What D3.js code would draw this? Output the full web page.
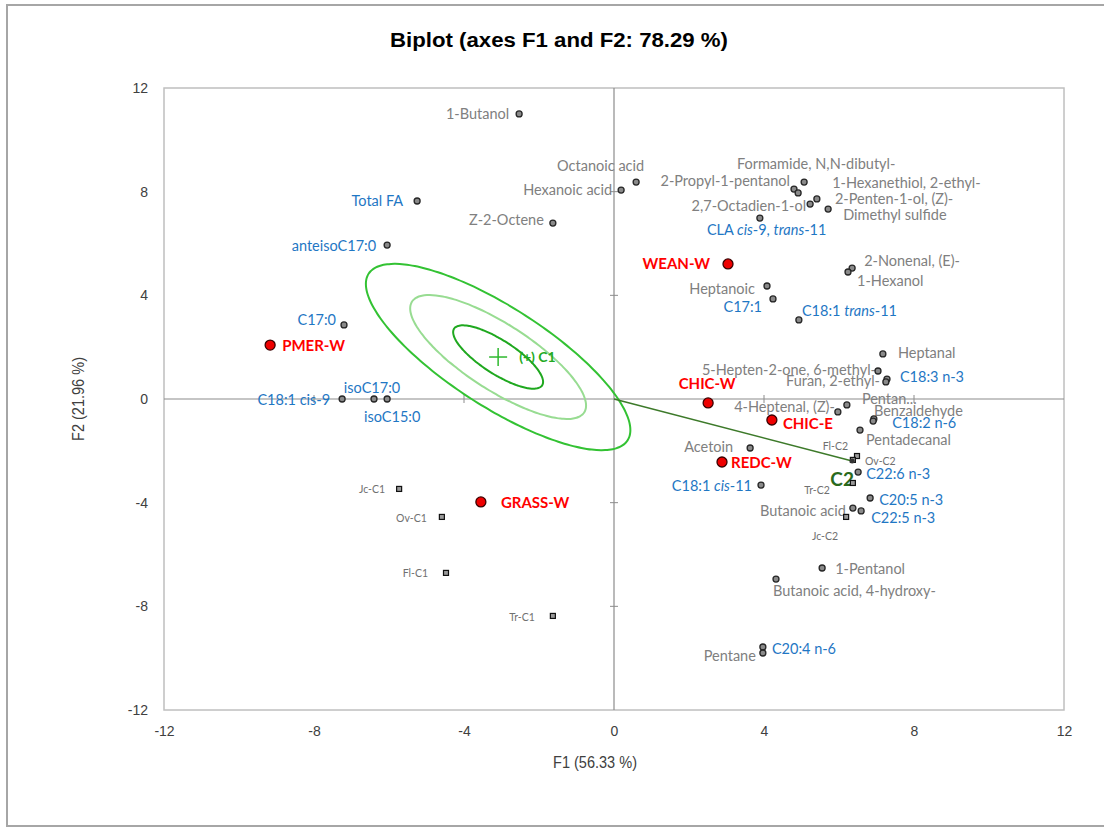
<!DOCTYPE html>
<html><head><meta charset="utf-8">
<script src="https://cdn.jsdelivr.net/npm/d3@7"></script>
<style>body{margin:0;background:#fff}svg{display:block}</style>
</head><body>
<svg id="chart" width="1104" height="834"></svg>
<script>
// ---------- DATA ----------
const xTicks = [-12, -8, -4, 0, 4, 8, 12];
const yTicks = [-12, -8, -4, 0, 4, 8, 12];

const volatileNames = ["1-Butanol","Octanoic acid","Hexanoic acid","Z-2-Octene","2-Propyl-1-pentanol",
  "Formamide, N,N-dibutyl-","1-Hexanethiol, 2-ethyl-","2,7-Octadien-1-ol","2-Penten-1-ol, (Z)-","Dimethyl sulfide",
  "2-Nonenal, (E)-","1-Hexanol","Heptanoic","Heptanal","5-Hepten-2-one, 6-methyl-","Furan, 2-ethyl-",
  "4-Heptenal, (Z)-","Pentan...","Benzaldehyde","Pentadecanal","Acetoin","Butanoic acid","1-Pentanol",
  "Butanoic acid, 4-hydroxy-","Pentane"];
const volatileF1 = [-2.53,0.59,0.19,-1.63,4.80,5.07,4.91,5.23,5.41,5.71,6.35,6.24,4.08,7.17,7.04,7.28,5.97,6.21,6.93,6.56,3.63,6.37,5.55,4.32,3.97];
const volatileF2 = [11.00,8.37,8.06,6.79,8.10,8.37,7.95,7.52,7.72,7.33,5.05,4.90,4.36,1.74,1.08,0.77,-0.50,-0.23,-0.77,-1.20,-1.89,-4.21,-6.52,-6.95,-9.57];

const fattyNames = ["CLA <i>cis</i>-9, <i>trans</i>-11","C17:1","C18:1 <i>trans</i>-11","C18:3 n-3","C18:2 n-6",
  "C18:1 <i>cis</i>-11","C22:6 n-3","C20:5 n-3","C22:5 n-3","C20:4 n-6","Total FA","anteisoC17:0","C17:0",
  "C18:1 cis-9","isoC17:0","isoC15:0"];
const fattyF1 = [3.89,4.24,4.93,7.25,6.91,3.92,6.51,6.83,6.59,3.97,-5.25,-6.05,-7.20,-7.25,-6.40,-6.05];
const fattyF2 = [6.98,3.86,3.05,0.66,-0.85,-3.32,-2.82,-3.82,-4.32,-9.80,7.64,5.94,2.86,0.00,0.00,0.00];

const obsNames = ["WEAN-W","PMER-W","CHIC-W","CHIC-E","REDC-W","GRASS-W"];
const obsF1 = [3.04,-9.17,2.51,4.21,2.88,-3.55];
const obsF2 = [5.21,2.08,-0.15,-0.81,-2.43,-3.97];

const classObsNames = ["Jc-C1","Ov-C1","Fl-C1","Tr-C1","Fl-C2","Ov-C2","Tr-C2","Jc-C2"];
const classObsF1 = [-5.73,-4.59,-4.48,-1.63,6.48,6.37,6.37,6.19];
const classObsF2 = [-3.47,-4.55,-6.71,-8.37,-2.20,-2.35,-3.24,-4.55];

const centroidNames = ["C1","C2"];
const centroidF1 = [-3.09, 6.35];
const centroidF2 = [1.62, -2.39];

// confidence ellipse around C1 (axis vectors in data units) and its nested levels
const ellipseMajor = [3.45, -3.22];
const ellipseMinor = [0.73, 1.60];
const ellipseLevels = [1.0, 0.665, 0.34];

// ---------- LAYOUT (label offsets in px: dx, dy, anchor) ----------
const labelPos = {
  "1-Butanol":[-10,5,"end"],"Octanoic acid":[8,-11,"end"],"Hexanoic acid":[-9,5,"end"],"Z-2-Octene":[-9,2,"end"],
  "2-Propyl-1-pentanol":[-4,-3,"end"],"Formamide, N,N-dibutyl-":[12,-13,"middle"],"1-Hexanethiol, 2-ethyl-":[34,-5,"start"],
  "2,7-Octadien-1-ol":[-4,7,"end"],"2-Penten-1-ol, (Z)-":[18,5,"start"],"Dimethyl sulfide":[15,11,"start"],
  "2-Nonenal, (E)-":[12,-2,"start"],"1-Hexanol":[9,14,"start"],"Heptanoic":[-12,8,"end"],"Heptanal":[15,4,"start"],
  "5-Hepten-2-one, 6-methyl-":[-2,4,"end"],"Furan, 2-ethyl-":[-7,7,"end"],"4-Heptenal, (Z)-":[-3,0,"end"],
  "Pentan...":[15,-1,"start"],"Benzaldehyde":[0,-3,"start"],"Pentadecanal":[6,15,"start"],"Acetoin":[-17,4,"end"],
  "Butanoic acid":[-7,8,"end"],"1-Pentanol":[13,6,"start"],"Butanoic acid, 4-hydroxy-":[-3,17,"start"],"Pentane":[-7,14,"end"],
  "CLA <i>cis</i>-9, <i>trans</i>-11":[-53,17,"start"],"C17:1":[-11,13,"end"],"C18:1 <i>trans</i>-11":[3,-4,"start"],
  "C18:3 n-3":[14,0,"start"],"C18:2 n-6":[19,7,"start"],"C18:1 <i>cis</i>-11":[-9,6,"end"],"C22:6 n-3":[8,7,"start"],
  "C20:5 n-3":[9,7,"start"],"C22:5 n-3":[10,12,"start"],"C20:4 n-6":[9,1,"start"],"Total FA":[-14,5,"end"],
  "anteisoC17:0":[-11,6,"end"],"C17:0":[-8,0,"end"],"C18:1 cis-9":[-12,6,"end"],"isoC17:0":[-2,-6,"middle"],
  "isoC15:0":[5,23,"middle"],
  "WEAN-W":[-18,5,"end"],"PMER-W":[12,6,"start"],"CHIC-W":[-1,-14,"middle"],"CHIC-E":[11,9,"start"],
  "REDC-W":[9,6,"start"],"GRASS-W":[20,6,"start"],
  "Jc-C1":[-14,4,"end"],"Ov-C1":[-15,5,"end"],"Fl-C1":[-18,4,"end"],"Tr-C1":[-18,5,"end"],
  "Fl-C2":[-9,-6,"end"],"Ov-C2":[12,5,"start"],"Tr-C2":[-23,11,"end"],"Jc-C2":[-8,23,"end"]
};

// ---------- DRAW ----------
const svg = d3.select("#chart");
const plot = {left:164, right:1064, top:88, bottom:710};
const x = d3.scaleLinear().domain([-12,12]).range([plot.left, plot.right]);
const y = d3.scaleLinear().domain([-12,12]).range([plot.bottom, plot.top]);

const labelFont = "Lato, 'Open Sans', sans-serif";
const axisFont = "'Liberation Sans', Arial, sans-serif";

// outer frame
svg.append("rect").attr("x",7).attr("y",5).attr("width",1110).attr("height",821)
  .attr("fill","none").attr("stroke","#a6a6a6").attr("stroke-width",2);

// title
svg.append("text").attr("x",559).attr("y",47).attr("text-anchor","middle")
  .attr("font-family",axisFont).attr("font-weight","bold").attr("font-size",20)
  .attr("textLength",338).attr("lengthAdjust","spacingAndGlyphs")
  .attr("fill","#000").text("Biplot (axes F1 and F2: 78.29 %)");

// plot border
svg.append("rect").attr("x",plot.left).attr("y",plot.top)
  .attr("width",plot.right-plot.left).attr("height",plot.bottom-plot.top)
  .attr("fill","none").attr("stroke","#bfbfbf").attr("stroke-width",1.5);

// tick labels via axes
const fmt = d => String(d);
const xAxis = d3.axisBottom(x).tickValues(xTicks).tickSize(0).tickPadding(16).tickFormat(fmt);
const gx = svg.append("g").attr("transform",`translate(0,${plot.bottom})`).call(xAxis);
gx.select(".domain").remove();
gx.selectAll("text").attr("font-family",axisFont).attr("font-size",14).attr("fill","#404040");
const yAxis = d3.axisLeft(y).tickValues(yTicks).tickSize(0).tickPadding(16).tickFormat(fmt);
const gy = svg.append("g").attr("transform",`translate(${plot.left},0)`).call(yAxis);
gy.select(".domain").remove();
gy.selectAll("text").attr("font-family",axisFont).attr("font-size",14).attr("fill","#404040");

// axis titles
svg.append("text").attr("x",595).attr("y",768).attr("text-anchor","middle")
  .attr("font-family",axisFont).attr("font-size",17).attr("fill","#404040")
  .attr("textLength",84).attr("lengthAdjust","spacingAndGlyphs").text("F1 (56.33 %)");
svg.append("text").attr("transform","translate(84,399) rotate(-90)").attr("text-anchor","middle")
  .attr("font-family",axisFont).attr("font-size",17).attr("fill","#404040")
  .attr("textLength",84).attr("lengthAdjust","spacingAndGlyphs").text("F2 (21.96 %)");

// zero axes with small ticks
const zc = "#8c8c8c";
svg.append("line").attr("x1",x(-12)).attr("x2",x(12)).attr("y1",y(0)).attr("y2",y(0)).attr("stroke",zc).attr("stroke-width",1.2);
svg.append("line").attr("x1",x(0)).attr("x2",x(0)).attr("y1",y(-12)).attr("y2",y(12)).attr("stroke",zc).attr("stroke-width",1.2);
xTicks.filter(d=>Math.abs(d)<12 && d!==0).forEach(d=>{
  svg.append("line").attr("x1",x(d)).attr("x2",x(d)).attr("y1",y(0)-4).attr("y2",y(0)+4).attr("stroke",zc);
});
yTicks.filter(d=>Math.abs(d)<12 && d!==0).forEach(d=>{
  svg.append("line").attr("x1",x(0)-4).attr("x2",x(0)+4).attr("y1",y(d)).attr("y2",y(d)).attr("stroke",zc);
});

// ellipses
const ellColors = ["#33c233","#98dc92","#1fa81f"];
const ellWidths = [2,2,2];
ellipseLevels.forEach((k,i)=>{
  const pts = d3.range(0,361,3).map(a=>{
    const t = a*Math.PI/180;
    return [centroidF1[0] + k*(ellipseMajor[0]*Math.cos(t) + ellipseMinor[0]*Math.sin(t)),
            centroidF2[0] + k*(ellipseMajor[1]*Math.cos(t) + ellipseMinor[1]*Math.sin(t))];
  });
  svg.append("path").attr("d", d3.line().x(d=>x(d[0])).y(d=>y(d[1])).curve(d3.curveCardinalClosed)(pts))
    .attr("fill","none").attr("stroke",ellColors[i]).attr("stroke-width",ellWidths[i]);
});

// C2 line from origin
svg.append("line").attr("x1",x(0)).attr("y1",y(0)).attr("x2",x(centroidF1[1])).attr("y2",y(centroidF2[1]))
  .attr("stroke","#3d7a2a").attr("stroke-width",1.6);

// C1 cross + labels
const c1x = x(centroidF1[0]), c1y = y(centroidF2[0]);
svg.append("line").attr("x1",c1x-9).attr("x2",c1x+9).attr("y1",c1y).attr("y2",c1y).attr("stroke","#2eb82e").attr("stroke-width",1.5);
svg.append("line").attr("x1",c1x).attr("x2",c1x).attr("y1",c1y-9).attr("y2",c1y+9).attr("stroke","#2eb82e").attr("stroke-width",1.5);
svg.append("text").attr("x",c1x+21).attr("y",c1y+5).attr("font-family",labelFont).attr("font-weight","bold")
  .attr("font-size",14).attr("fill","#22aa22").text("(+) " + centroidNames[0]);
svg.append("text").attr("x",x(centroidF1[1])-10).attr("y",y(centroidF2[1])+25).attr("text-anchor","middle")
  .attr("font-family",labelFont).attr("font-weight","bold").attr("font-size",19).attr("fill","#2a6a1c").text(centroidNames[1]);

// helper for labels with <i> markup
function richText(sel, s){
  const parts = s.split(/(<i>.*?<\/i>)/).filter(p=>p.length);
  parts.forEach(p=>{
    const it = p.startsWith("<i>");
    sel.append("tspan").attr("font-style", it ? "italic" : null).text(it ? p.slice(3,-4) : p);
  });
}
function drawLabels(names, f1, f2, color, size, weight){
  names.forEach((n,i)=>{
    const lp = labelPos[n] || [8,4,"start"];
    const t = svg.append("text").attr("x", x(f1[i]) + lp[0]).attr("y", y(f2[i]) + lp[1])
      .attr("text-anchor", lp[2]).attr("font-family", labelFont).attr("font-size", size)
      .attr("font-weight", weight).attr("fill", color);
    richText(t, n);
  });
}

// labels (drawn below markers)
drawLabels(volatileNames, volatileF1, volatileF2, "#808080", 14.5, "normal");
drawLabels(fattyNames, fattyF1, fattyF2, "#1f77c4", 14.5, "normal");
drawLabels(obsNames, obsF1, obsF2, "#ff0000", 15, "bold");
drawLabels(classObsNames, classObsF1, classObsF2, "#707070", 10.5, "normal");

// variable points
const varF1All = volatileF1.concat(fattyF1), varF2All = volatileF2.concat(fattyF2);
svg.append("g").selectAll("circle").data(d3.range(varF1All.length)).join("circle")
  .attr("cx", i=>x(varF1All[i])).attr("cy", i=>y(varF2All[i])).attr("r",3)
  .attr("fill","#8a8a8a").attr("stroke","#262626").attr("stroke-width",1.3);

// class observation squares
svg.append("g").selectAll("rect").data(d3.range(classObsNames.length)).join("rect")
  .attr("x", i=>x(classObsF1[i])-2.5).attr("y", i=>y(classObsF2[i])-2.5).attr("width",5).attr("height",5)
  .attr("fill","#9a9a9a").attr("stroke","#111").attr("stroke-width",1.2);

// C2 end marker
svg.append("circle").attr("cx",x(centroidF1[1])).attr("cy",y(centroidF2[1])).attr("r",2.5).attr("fill","#333");

// observation points
svg.append("g").selectAll("circle").data(d3.range(obsNames.length)).join("circle")
  .attr("cx", i=>x(obsF1[i])).attr("cy", i=>y(obsF2[i])).attr("r",5)
  .attr("fill","#ee0000").attr("stroke","#3a0000").attr("stroke-width",1.3);
</script>
</body></html>
